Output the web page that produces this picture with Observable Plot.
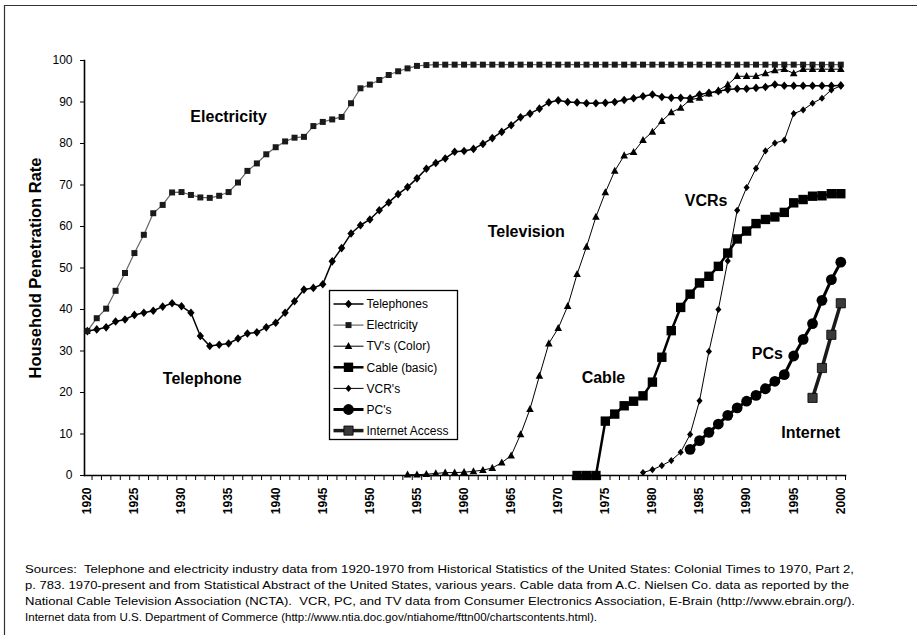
<!DOCTYPE html>
<html>
<head>
<meta charset="utf-8">
<script src="https://cdn.jsdelivr.net/npm/d3@7"></script>
<script src="https://cdn.jsdelivr.net/npm/@observablehq/plot@0.6"></script>
<style>
  html, body { margin: 0; padding: 0; background: white; }
  #wrap { position: relative; width: 917px; height: 635px; overflow: hidden; background: white; font-family: "Liberation Sans", Arial, sans-serif; }
  #wrap > svg { position: absolute; left: 0; top: 0; }
</style>
</head>
<body>
<div id="wrap"></div>
<script>
// ---------- data (household penetration, %) ----------
const seriesNames = ["Telephones", "Electricity", "TV's (Color)", "Cable (basic)", "VCR's", "PC's", "Internet Access"];
const startYears = [1920, 1920, 1954, 1972, 1979, 1984, 1997];

const telephones = [
  34.8, 35.2, 35.7, 37.1, 37.6, 38.7, 39.2, 39.7, 40.7, 41.5,
  40.8, 39.2, 33.6, 31.2, 31.5, 31.8, 33.0, 34.2, 34.5, 35.7,
  36.8, 39.2, 42.0, 44.8, 45.2, 46.1, 51.6, 54.8, 58.3, 60.3,
  61.7, 63.9, 65.8, 67.8, 69.5, 71.6, 73.9, 75.3, 76.4, 78.0,
  78.2, 78.7, 79.9, 81.3, 82.8, 84.4, 86.3, 87.2, 88.4, 89.9,
  90.4, 90.0, 89.9, 89.7, 89.7, 89.8, 90.0, 90.5, 90.9, 91.4,
  91.8, 91.2, 91.0, 91.0, 90.9, 91.8, 92.2, 92.6, 93.0, 93.2,
  93.2, 93.4, 93.6, 94.2, 93.9, 93.9, 93.9, 93.9, 93.9, 93.9,
  94.0
];
const electricity = [
  34.8, 37.9, 40.2, 44.5, 48.8, 53.6, 58.0, 63.2, 65.2, 68.2,
  68.3, 67.6, 67.0, 66.9, 67.4, 68.3, 70.6, 73.4, 75.2, 77.4,
  79.1, 80.5, 81.4, 81.6, 84.2, 85.2, 85.8, 86.4, 89.7, 93.3,
  94.2, 95.3, 96.5, 97.4, 98.1, 98.7, 98.9, 99.0, 99.0, 99.0,
  99.0, 99.0, 99.0, 99.0, 99.0, 99.0, 99.0, 99.0, 99.0, 99.0,
  99.0, 99.0, 99.0, 99.0, 99.0, 99.0, 99.0, 99.0, 99.0, 99.0,
  99.0, 99.0, 99.0, 99.0, 99.0, 99.0, 99.0, 99.0, 99.0, 99.0,
  99.0, 99.0, 99.0, 99.0, 99.0, 99.0, 99.0, 99.0, 99.0, 99.0,
  99.0
];
const tvColor = [
  0.2, 0.2, 0.3, 0.5, 0.7, 0.7, 0.8, 1.0, 1.3, 1.8,
  3.1, 4.8, 9.9, 16.0, 24.0, 31.8, 35.5,
  40.8, 48.5, 55.1, 62.3, 68.2, 73.4, 77.1, 77.9, 80.8, 82.8,
  85.4, 87.5, 88.6, 90.5, 91.0, 92.0, 92.8, 94.2, 96.2, 96.2,
  96.2, 96.9, 97.6, 97.9, 96.9, 97.9, 97.9, 97.9, 97.9, 97.9
];
const cable = [
  0, 0, 0, 13.1, 14.8, 16.8, 17.9, 19.2, 22.5,
  28.5, 34.9, 40.5, 43.7, 46.4, 48.0, 50.4, 53.6, 57.0, 58.9,
  60.7, 61.7, 62.3, 63.4, 65.7, 66.5, 67.3, 67.4, 67.9, 67.9
];
const vcr = [
  0.7, 1.4, 2.4, 3.6, 5.6, 9.9, 18.0, 29.9, 40.0, 51.7, 63.9,
  69.4, 74.0, 78.2, 80.1, 80.8, 87.2, 88.1, 89.7, 90.9, 92.9, 93.9
];
const pc = [
  6.3, 8.4, 10.4, 12.4, 14.5, 16.3, 17.9, 19.3, 20.9, 22.7,
  24.3, 28.8, 32.8, 36.6, 42.2, 47.2, 51.4
];
const internet = [18.7, 25.9, 33.9, 41.5];

const seriesValues = [telephones, electricity, tvColor, cable, vcr, pc, internet];

const yTicks = [0, 10, 20, 30, 40, 50, 60, 70, 80, 90, 100];
const xLabelYears = [1920, 1925, 1930, 1935, 1940, 1945, 1950, 1955, 1960, 1965, 1970, 1975, 1980, 1985, 1990, 1995, 2000];

const annotationText = ["Electricity", "Telephone", "Television", "VCRs", "Cable", "PCs", "Internet"];
const annotationYear = [1935.0, 1932.2, 1966.6, 1985.7, 1974.8, 1992.2, 1996.8];
const annotationValue = [86.4, 23.4, 58.8, 66.1, 23.6, 29.3, 10.3];

const yTitle = "Household Penetration Rate";
const footerLines = [
  "Sources:  Telephone and electricity industry data from 1920-1970 from Historical Statistics of the United States: Colonial Times to 1970, Part 2,",
  "p. 783. 1970-present and from Statistical Abstract of the United States, various years. Cable data from A.C. Nielsen Co. data as reported by the",
  "National Cable Television Association (NCTA).  VCR, PC, and TV data from Consumer Electronics Association, E-Brain (http://www.ebrain.org/).",
  "Internet data from U.S. Department of Commerce (http://www.ntia.doc.gov/ntiahome/fttn00/chartscontents.html)."
];

// ---------- marker shapes ----------
const rOf = size => Math.sqrt(size / Math.PI);
const diamondSym = {draw(c, s) { const r = rOf(s); c.moveTo(0, -r); c.lineTo(r * 0.85, 0); c.lineTo(0, r); c.lineTo(-r * 0.85, 0); c.closePath(); }};
const squareSym = {draw(c, s) { const r = rOf(s); c.rect(-r, -r, 2 * r, 2 * r); }};
const triSym = {draw(c, s) { const r = rOf(s); c.moveTo(0, -r * 1.1); c.lineTo(r, r * 0.75); c.lineTo(-r, r * 0.75); c.closePath(); }};
const circleSym = {draw(c, s) { const r = rOf(s); c.moveTo(r, 0); c.arc(0, 0, r, 0, 2 * Math.PI); }};

// ---------- styles per series ----------
const styles = [
  {stroke: "#000", width: 1.5, symbol: diamondSym, r: 4.3, fill: "#000"},
  {stroke: "#666", width: 1.2, symbol: squareSym, r: 3.0, fill: "#1a1a1a"},
  {stroke: "#000", width: 1.0, symbol: triSym, r: 3.8, fill: "#000"},
  {stroke: "#000", width: 2.5, symbol: squareSym, r: 4.7, fill: "#000"},
  {stroke: "#000", width: 1.0, symbol: diamondSym, r: 3.6, fill: "#000"},
  {stroke: "#000", width: 3.0, symbol: circleSym, r: 5.4, fill: "#000"},
  {stroke: "#1a1a1a", width: 3.5, symbol: squareSym, r: 4.6, fill: "#3a3a3a"}
];

const tables = seriesValues.map((vals, i) => vals.map((v, j) => ({year: startYears[i] + j, value: v})));
const allYears = d3.range(1920, 2001);
const boundaryTicks = allYears.map(y => y + 0.5);

const seriesMarks = [];
tables.forEach((t, i) => {
  const s = styles[i];
  seriesMarks.push(Plot.line(t, {x: "year", y: "value", stroke: s.stroke, strokeWidth: s.width, curve: "linear"}));
});
tables.forEach((t, i) => {
  const s = styles[i];
  seriesMarks.push(Plot.dot(t, {x: "year", y: "value", symbol: () => s.symbol, r: s.r, fill: s.fill, stroke: i === 6 ? "#000" : "none", strokeWidth: 0.8}));
});

const annotations = annotationText.map((t, i) => ({text: t, year: annotationYear[i], value: annotationValue[i]}));

const chart = Plot.plot({
  width: 917,
  height: 530,
  marginLeft: 84,
  marginRight: 72,
  marginTop: 60,
  marginBottom: 55,
  style: {fontFamily: "'Liberation Sans', Arial, sans-serif", fontSize: "12px", color: "#000", background: "transparent", overflow: "visible"},
  x: {domain: [1919.7, 2000.5]},
  y: {domain: [0, 100]},
  symbol: {type: "identity"},
  marks: [
    Plot.axisY({ticks: yTicks, tickSize: 4, tickPadding: 8, label: null, fontSize: 12, stroke: "#000", strokeWidth: 1}),
    Plot.axisX({ticks: boundaryTicks, tickSize: 5, tickFormat: () => "", label: null, stroke: "#000"}),
    Plot.axisX({ticks: xLabelYears, tickSize: 0, tickPadding: 12, tickRotate: -90, tickFormat: d => String(d), label: null, fontWeight: "bold", fontSize: 12}),
    Plot.frame({anchor: "left", stroke: "#000", strokeWidth: 1.6}),
    Plot.frame({anchor: "bottom", stroke: "#000", strokeWidth: 1.6}),
    ...seriesMarks,
    Plot.text(annotations, {x: "year", y: "value", text: "text", fontSize: 16, fontWeight: "bold", fill: "#000", textAnchor: "middle", lineAnchor: "middle"}),
    Plot.text([yTitle], {frameAnchor: "left", dx: -49, rotate: -90, textAnchor: "middle", lineAnchor: "middle", fontSize: 16.5, fontWeight: "bold", fill: "#000"})
  ]
});

const wrap = document.getElementById("wrap");
wrap.appendChild(chart);

// ---------- overlay: border, legend, sources ----------
const ov = d3.select(wrap).append("svg")
  .attr("width", 917).attr("height", 635)
  .style("font-family", "'Liberation Sans', Arial, sans-serif");

ov.append("path").attr("d", "M4.5,635 L4.5,5.5 L917,5.5").attr("fill", "none").attr("stroke", "#333").attr("stroke-width", 1.2);

const lg = ov.append("g").attr("transform", "translate(329.5,290.5)");
lg.append("rect").attr("width", 128).attr("height", 149).attr("fill", "white").attr("stroke", "#000").attr("stroke-width", 1.3);
seriesNames.forEach((name, i) => {
  const s = styles[i];
  const y = 13.5 + i * 21.1;
  lg.append("line").attr("x1", 4).attr("x2", 34).attr("y1", y).attr("y2", y)
    .attr("stroke", s.stroke).attr("stroke-width", s.width);
  lg.append("path").attr("transform", `translate(19,${y})`)
    .attr("d", d3.symbol(s.symbol, s.r * s.r * Math.PI)())
    .attr("fill", s.fill).attr("stroke", i === 6 ? "#000" : "none").attr("stroke-width", 0.8);
  lg.append("text").attr("x", 37).attr("y", y).attr("dy", "0.35em")
    .attr("font-size", 12).attr("fill", "#000").text(name);
});

const footerWidths = [829, 824, 830, 572];
footerLines.forEach((line, i) => {
  ov.append("text")
    .attr("x", 25).attr("y", 572.5 + i * 16)
    .attr("font-size", 11.5).attr("fill", "#000")
    .attr("textLength", footerWidths[i]).attr("lengthAdjust", "spacingAndGlyphs")
    .style("white-space", "pre")
    .text(line);
});
</script>
</body>
</html>
